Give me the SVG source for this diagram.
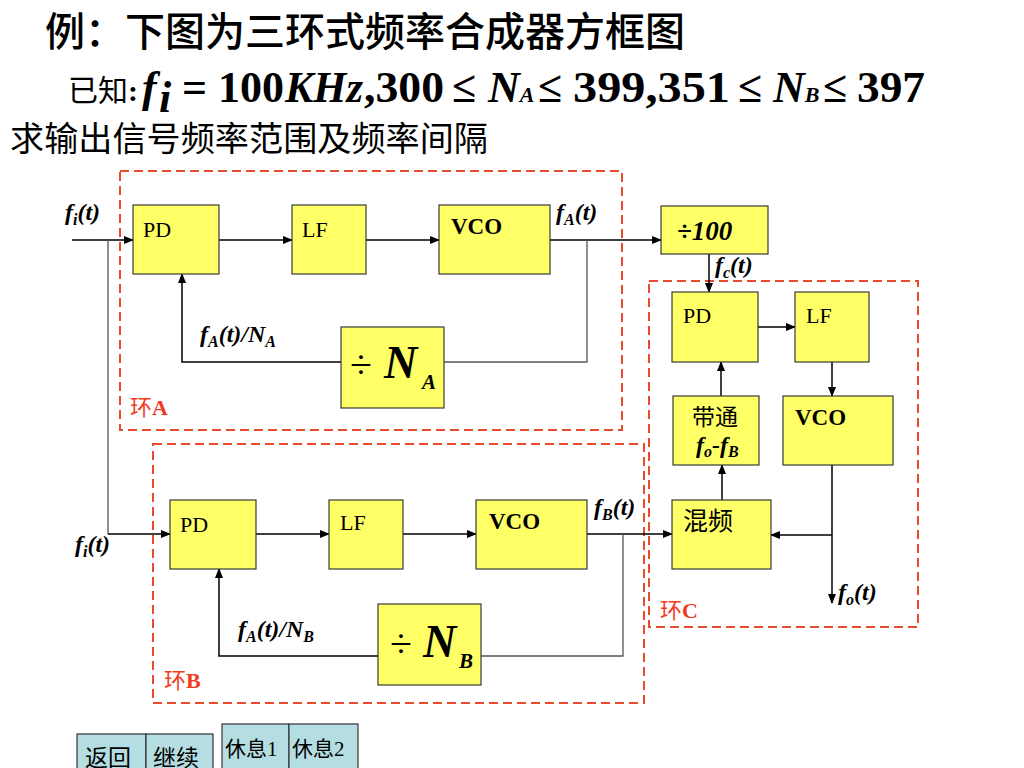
<svg xmlns="http://www.w3.org/2000/svg" width="1024" height="768" viewBox="0 0 1024 768">
<defs>
<marker id="arr" markerWidth="10" markerHeight="8" refX="9" refY="4" orient="auto" markerUnits="userSpaceOnUse">
<path d="M0,0 L10,4 L0,8 Z" fill="#000"/>
</marker>
<style>
.blk{fill:#FFFF66;stroke:#3a3a3a;stroke-width:1.2}
.loop{fill:none;stroke:#EA4A2C;stroke-width:2;stroke-dasharray:9,5}
.ln{fill:none;stroke:#000;stroke-width:1.5}
.gl{fill:none;stroke:#555;stroke-width:1.3}
.cjk{font-family:"Noto Sans CJK SC",sans-serif}
.lab{font-family:"Liberation Serif",serif;font-size:22px;fill:#000}
.bd{font-family:"Liberation Serif",serif;font-weight:bold;font-size:23px;fill:#000}
.sig{font-family:"Liberation Serif",serif;font-weight:bold;font-style:italic;font-size:24px;fill:#000}
.sub{font-size:16px}
.red{fill:#F03C1E;font-size:22px}
.btn{fill:#B5DEE3;stroke:#333;stroke-width:1.2}
.fm{font-family:"Liberation Serif",serif;font-weight:bold;font-size:44px;fill:#000}
</style>
</defs>
<rect width="1024" height="768" fill="#fff"/>

<g id="header">
<text class="cjk" x="45" y="46" font-size="40" font-weight="500" textLength="640" lengthAdjust="spacingAndGlyphs">例：下图为三环式频率合成器方框图</text>
<text class="cjk" x="68" y="101" font-size="30">已知<tspan font-family="Liberation Serif" font-weight="bold">:</tspan></text>
<text class="fm" x="142" y="102" font-style="italic">f</text>
<text class="fm" x="159" y="112" font-style="italic" font-size="24">i</text>
<text class="fm" x="182" y="102">=</text>
<text class="fm" x="218" y="102" textLength="66" lengthAdjust="spacingAndGlyphs">100</text>
<text class="fm" x="285" y="102" font-style="italic" textLength="78" lengthAdjust="spacingAndGlyphs">KHz</text>
<text class="fm" x="364" y="102" textLength="80" lengthAdjust="spacingAndGlyphs">,300</text>
<text class="fm" x="452" y="102">≤</text>
<text class="fm" x="488" y="102" font-style="italic">N<tspan font-size="22">A</tspan></text>
<text class="fm" x="538" y="102">≤</text>
<text class="fm" x="573" y="102" textLength="157" lengthAdjust="spacingAndGlyphs">399,351</text>
<text class="fm" x="738" y="102">≤</text>
<text class="fm" x="773" y="102" font-style="italic">N<tspan font-size="22">B</tspan></text>
<text class="fm" x="823" y="102">≤</text>
<text class="fm" x="857" y="102" textLength="68" lengthAdjust="spacingAndGlyphs">397</text>
<text class="cjk" x="10" y="151" font-size="34" textLength="478" lengthAdjust="spacingAndGlyphs">求输出信号频率范围及频率间隔</text>
</g>

<g id="loopA">
<rect class="loop" x="120" y="171" width="502" height="259"/>
<text class="cjk red" x="130" y="415">环<tspan font-family="Liberation Serif" font-weight="bold">A</tspan></text>
</g>
<g id="loopB">
<rect class="loop" x="153" y="444" width="491" height="259"/>
<text class="cjk red" x="164" y="688">环<tspan font-family="Liberation Serif" font-weight="bold">B</tspan></text>
</g>
<g id="loopC">
<rect class="loop" x="649" y="281" width="269" height="346"/>
<text class="cjk red" x="660" y="618">环<tspan font-family="Liberation Serif" font-weight="bold">C</tspan></text>
</g>

<g id="connectors">
<path class="ln" d="M72,240 H133" marker-end="url(#arr)"/>
<path class="gl" d="M108,240 V534"/>
<path class="ln" d="M108,534 H170" marker-end="url(#arr)"/>
<path class="ln" d="M219,240 H292" marker-end="url(#arr)"/>
<path class="ln" d="M366,240 H439" marker-end="url(#arr)"/>
<path class="ln" d="M550,240 H661" marker-end="url(#arr)"/>
<path class="gl" d="M587,240 V362 H444"/>
<path class="ln" d="M341,362 H182 V274" marker-end="url(#arr)"/>
<path class="ln" d="M709,254 V292" marker-end="url(#arr)"/>
<path class="ln" d="M758,327 H795" marker-end="url(#arr)"/>
<path class="ln" d="M832,362 V396" marker-end="url(#arr)"/>
<path class="ln" d="M832,465 V603" marker-end="url(#arr)"/>
<path class="ln" d="M832,535 H771" marker-end="url(#arr)"/>
<path class="ln" d="M722,500 V465" marker-end="url(#arr)"/>
<path class="ln" d="M721,396 V362" marker-end="url(#arr)"/>
<path class="ln" d="M256,534 H329" marker-end="url(#arr)"/>
<path class="ln" d="M403,534 H476" marker-end="url(#arr)"/>
<path class="ln" d="M587,534 H672" marker-end="url(#arr)"/>
<path class="gl" d="M623,534 V656 H481"/>
<path class="ln" d="M378,656 H219 V569" marker-end="url(#arr)"/>
</g>

<g id="signal-labels">
<text class="sig" x="65" y="220">f<tspan class="sub" dy="5">i</tspan><tspan dy="-5">(t)</tspan></text>
<text class="sig" x="556" y="220">f<tspan class="sub" dy="5">A</tspan><tspan dy="-5">(t)</tspan></text>
<text class="sig" x="715" y="273">f<tspan class="sub" dy="5">c</tspan><tspan dy="-5">(t)</tspan></text>
<text class="sig" x="594" y="515">f<tspan class="sub" dy="5">B</tspan><tspan dy="-5">(t)</tspan></text>
<text class="sig" x="75" y="552">f<tspan class="sub" dy="5">i</tspan><tspan dy="-5">(t)</tspan></text>
<text class="sig" x="838" y="600">f<tspan class="sub" dy="5">o</tspan><tspan dy="-5">(t)</tspan></text>
<text class="sig" x="200" y="342" font-size="22">f<tspan class="sub" dy="5">A</tspan><tspan dy="-5">(t)/N</tspan><tspan class="sub" dy="5">A</tspan></text>
<text class="sig" x="238" y="637" font-size="22">f<tspan class="sub" dy="5">A</tspan><tspan dy="-5">(t)/N</tspan><tspan class="sub" dy="5">B</tspan></text>
</g>

<g id="PD_A"><rect class="blk" x="133" y="205" width="86" height="69"/><text class="lab" x="143" y="237">PD</text></g>
<g id="LF_A"><rect class="blk" x="292" y="205" width="74" height="69"/><text class="lab" x="302" y="237">LF</text></g>
<g id="VCO_A"><rect class="blk" x="439" y="205" width="111" height="69"/><text class="bd" x="451" y="234">VCO</text></g>
<g id="DIV_NA"><rect class="blk" x="341" y="327" width="103" height="81"/>
<text x="350" y="378" font-family="Liberation Serif" font-size="40">÷</text>
<text x="384" y="378" font-family="Liberation Serif" font-weight="bold" font-style="italic" font-size="46">N</text>
<text x="422" y="389" font-family="Liberation Serif" font-weight="bold" font-style="italic" font-size="21">A</text></g>

<g id="DIV100"><rect class="blk" x="661" y="206" width="107" height="48"/>
<text x="677" y="240" font-family="Liberation Serif" font-weight="bold" font-style="italic" font-size="27">÷100</text></g>

<g id="PD_C"><rect class="blk" x="672" y="292" width="86" height="70"/><text class="lab" x="683" y="323">PD</text></g>
<g id="LF_C"><rect class="blk" x="795" y="292" width="74" height="70"/><text class="lab" x="806" y="323">LF</text></g>
<g id="BPF"><rect class="blk" x="673" y="396" width="86" height="69"/>
<text class="cjk" x="692" y="425" font-size="23">带通</text>
<text class="sig" x="696" y="453" font-size="22">f<tspan class="sub" dy="4">o</tspan><tspan dy="-4">-f</tspan><tspan class="sub" dy="4">B</tspan></text></g>
<g id="VCO_C"><rect class="blk" x="783" y="396" width="110" height="69"/><text class="bd" x="795" y="425">VCO</text></g>
<g id="MIX"><rect class="blk" x="672" y="500" width="99" height="69"/><text class="cjk" x="683" y="530" font-size="25">混频</text></g>

<g id="PD_B"><rect class="blk" x="170" y="500" width="86" height="69"/><text class="lab" x="180" y="532">PD</text></g>
<g id="LF_B"><rect class="blk" x="329" y="500" width="74" height="69"/><text class="lab" x="340" y="530">LF</text></g>
<g id="VCO_B"><rect class="blk" x="476" y="500" width="111" height="69"/><text class="bd" x="489" y="529">VCO</text></g>
<g id="DIV_NB"><rect class="blk" x="378" y="604" width="103" height="81"/>
<text x="390" y="657" font-family="Liberation Serif" font-size="40">÷</text>
<text x="423" y="657" font-family="Liberation Serif" font-weight="bold" font-style="italic" font-size="46">N</text>
<text x="459" y="668" font-family="Liberation Serif" font-weight="bold" font-style="italic" font-size="21">B</text></g>

<g id="buttons">
<rect class="btn" x="77" y="734" width="69" height="40"/>
<rect class="btn" x="146" y="734" width="67" height="40"/>
<rect class="btn" x="222" y="724" width="67" height="50"/>
<rect class="btn" x="289" y="724" width="69" height="50"/>
<text class="cjk" x="85" y="766" font-size="23">返回</text>
<text class="cjk" x="153" y="766" font-size="23">继续</text>
<text class="cjk" x="225" y="756" font-size="21">休息<tspan font-family="Liberation Serif">1</tspan></text>
<text class="cjk" x="292" y="756" font-size="21">休息<tspan font-family="Liberation Serif">2</tspan></text>
</g>
</svg>
